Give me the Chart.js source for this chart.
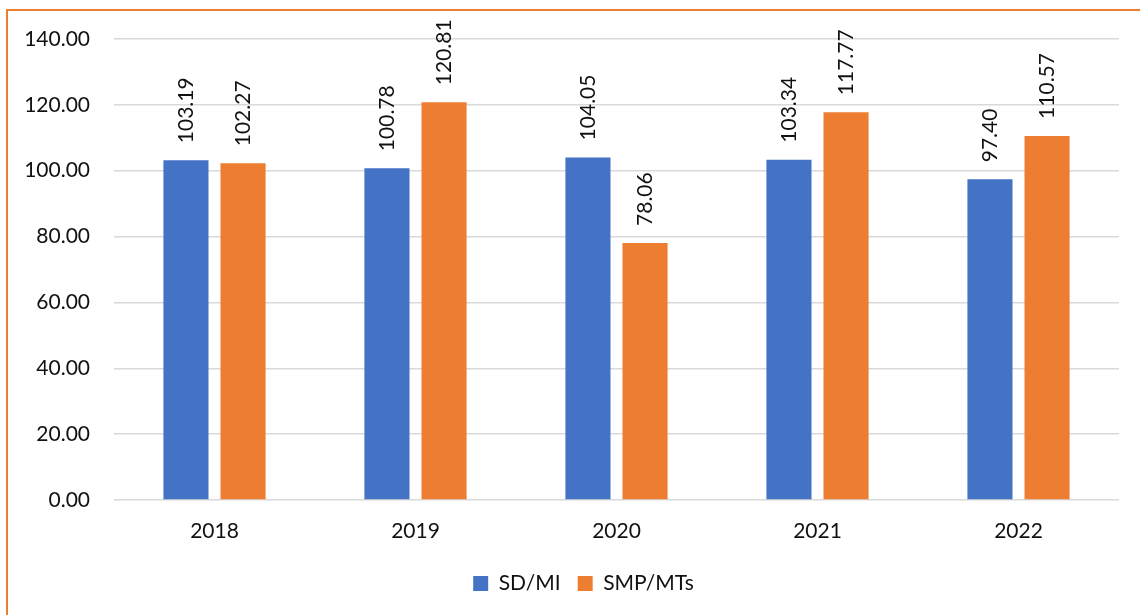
<!DOCTYPE html>
<html>
<head>
<meta charset="utf-8">
<script src="https://cdn.jsdelivr.net/npm/chart.js@4/dist/chart.umd.min.js"></script>
<style>
  html, body { margin: 0; padding: 0; background: #fff; overflow: hidden; }
  #frame {
    position: absolute; left: 6px; top: 9px;
    width: 2000px; height: 2000px;
    border: 2px solid #ED7D31;
  }
  #chart { position: absolute; left: 0; top: 0; }
</style>
</head>
<body>
<div id="frame"></div>
<canvas id="chart" width="1140" height="615"></canvas>
<script>
// chart data
const years = ['2018', '2019', '2020', '2021', '2022'];
const sdMi = [103.19, 100.78, 104.05, 103.34, 97.40];
const smpMts = [102.27, 120.81, 78.06, 117.77, 110.57];
const yTicks = [0, 20, 40, 60, 80, 100, 120, 140];

const FONT = 'Lato, "Open Sans", sans-serif';

// rotated value labels above the bars
const barLabels = {
    id: 'barLabels',
    afterDatasetsDraw(chart) {
        const ctx = chart.ctx;
        ctx.save();
        ctx.fillStyle = '#111';
        ctx.font = '21px ' + FONT;
        ctx.textAlign = 'left';
        ctx.textBaseline = 'middle';
        chart.data.datasets.forEach((ds, i) => {
            chart.getDatasetMeta(i).data.forEach((bar, j) => {
                ctx.save();
                ctx.translate(bar.x, bar.y - 17);
                ctx.rotate(-Math.PI / 2);
                ctx.fillText(ds.data[j].toFixed(2), 0, 0);
                ctx.restore();
            });
        });
        ctx.restore();
    }
};

// legend sits a bit right of the canvas centre, like the original
const shiftLegend = {
    id: 'shiftLegend',
    afterLayout(chart) {
        chart.legend.left += 24;
        chart.legend.right += 24;
    }
};

new Chart(document.getElementById('chart'), {
    type: 'bar',
    data: {
        labels: years,
        datasets: [
            { label: 'SD/MI', data: sdMi, backgroundColor: '#4472C4' },
            { label: 'SMP/MTs', data: smpMts, backgroundColor: '#ED7D31' }
        ]
    },
    options: {
        responsive: false,
        animation: false,
        devicePixelRatio: 1,
        categoryPercentage: 0.568,
        barPercentage: 0.79,
        layout: { padding: { top: 39, right: 21, bottom: 11, left: 0 } },
        plugins: {
            tooltip: { enabled: false },
            legend: {
                position: 'bottom',
                labels: {
                    color: '#111',
                    font: { family: FONT, size: 21 },
                    boxWidth: 15,
                    boxHeight: 15,
                    padding: 17
                }
            }
        },
        scales: {
            x: {
                grid: { display: false, drawTicks: false },
                border: { display: false },
                ticks: { color: '#111', font: { family: FONT, size: 21 }, padding: 19 },
                afterFit: s => { s.height = 56; }
            },
            y: {
                min: 0,
                max: 140,
                afterBuildTicks: s => { s.ticks = yTicks.map(v => ({ value: v })); },
                grid: { color: '#d9d9d9', lineWidth: 1.5, drawTicks: false },
                border: { display: false },
                ticks: {
                    color: '#111',
                    font: { family: FONT, size: 21 },
                    padding: 24,
                    callback: v => Number(v).toFixed(2)
                },
                afterFit: s => { s.width = 114; }
            }
        }
    },
    plugins: [barLabels, shiftLegend]
});
</script>
</body>
</html>
